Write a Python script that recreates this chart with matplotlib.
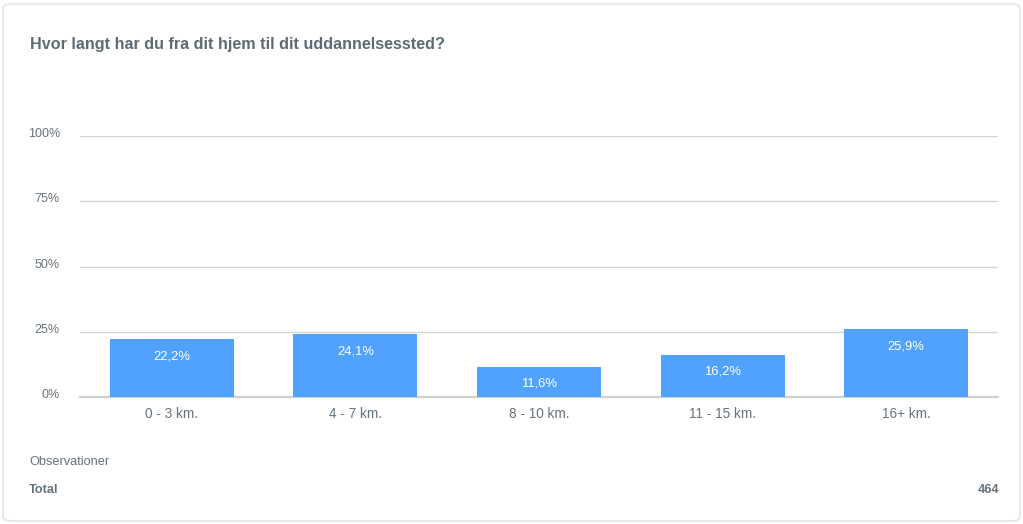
import matplotlib
matplotlib.use("Agg")
import matplotlib.pyplot as plt
import matplotlib.transforms as mtransforms
from matplotlib.patches import FancyBboxPatch

title = "Hvor langt har du fra dit hjem til dit uddannelsessted?"
categories = ["0 - 3 km.", "4 - 7 km.", "8 - 10 km.", "11 - 15 km.", "16+ km."]
values = [22.2, 24.1, 11.6, 16.2, 25.9]
y_ticks = [0, 25, 50, 75, 100]
total_observations = 464

plt.rcParams["font.family"] = ["Liberation Sans", "DejaVu Sans"]

W, H = 1023, 524
fig = plt.figure(figsize=(W / 100, H / 100), dpi=100)
fig.patch.set_facecolor("white")

# card frame, kept behind the axes
card = FancyBboxPatch((3 / W, 3 / H), (W - 6) / W, (H - 7) / H,
                      boxstyle="round,pad=0,rounding_size=0.008",
                      transform=fig.transFigure, facecolor="white",
                      edgecolor="#e3e6e8", linewidth=1.2, zorder=-5)
fig.patches.append(card)

text_col = "#68737b"
title_col = "#5f6b73"
bar_col = "#51a2ff"

fig.text(30 / W, 1 - 44 / H, title, fontsize=11.6, fontweight="bold",
         color=title_col, va="center", ha="left")

ax_left, ax_right = 80, 998
ax_top, ax_bottom = 136, 397
ax = fig.add_axes([ax_left / W, 1 - ax_bottom / H,
                   (ax_right - ax_left) / W, (ax_bottom - ax_top) / H])
ax.set_facecolor("none")
ax.set_zorder(2)

x = list(range(len(categories)))
bars = ax.bar(x, values, width=0.675, color=bar_col, zorder=3)
for xi, v in zip(x, values):
    ax.annotate(f"{v:.1f}%".replace(".", ","), (xi, v), xytext=(0, -12.2),
                textcoords="offset points", ha="center", va="center",
                fontsize=9.4, color="white", zorder=4)

ax.set_xlim(-0.5, len(categories) - 0.5)
ax.set_ylim(0, 100)
ax.set_yticks(y_ticks)
ax.set_yticklabels([f"{t}%" for t in y_ticks])
ax.set_xticks(x)
ax.set_xticklabels(categories)
ax.grid(axis="y", color="#d4d4d4", linewidth=1.0, zorder=0)
ax.axhline(0, color="#d0d0d0", linewidth=1.6, zorder=2, clip_on=False)
for s in ax.spines.values():
    s.set_visible(False)
ax.tick_params(axis="y", length=0, labelsize=9, labelcolor=text_col, pad=14.5)
ax.tick_params(axis="x", length=0, labelsize=9.8, labelcolor=text_col, pad=7)
# y labels sit slightly above their gridlines
lift = mtransforms.ScaledTranslation(0, 2.5 / 72, fig.dpi_scale_trans)
for lbl in ax.get_yticklabels():
    lbl.set_horizontalalignment("right")
    lbl.set_verticalalignment("center_baseline")
    lbl.set_transform(lbl.get_transform() + lift)

fig.text(29 / W, 1 - 462 / H, "Observationer", fontsize=9.2, color=text_col,
         va="center", ha="left")
fig.text(29 / W, 1 - 490 / H, "Total", fontsize=9.2, fontweight="bold",
         color=text_col, va="center", ha="left")
fig.text(999 / W, 1 - 490 / H, str(total_observations), fontsize=9.2,
         fontweight="bold", color=text_col, va="center", ha="right")

fig.savefig("out.png", dpi=100, facecolor="white")
